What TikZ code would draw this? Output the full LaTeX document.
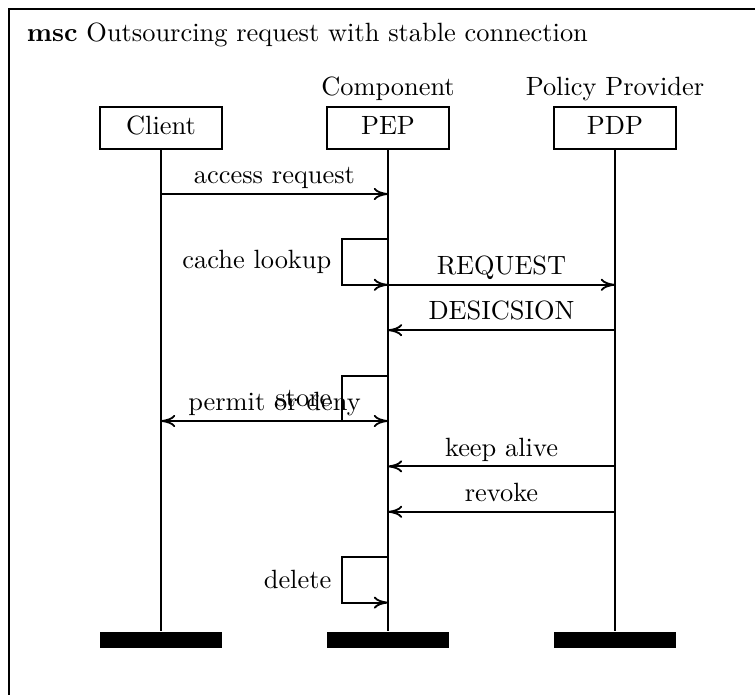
\documentclass[tikz,border=0pt]{standalone}
\usetikzlibrary{arrows.meta}
\begin{document}
\begin{tikzpicture}[x=0.3788pt,y=-0.3788pt,
  line width=0.7pt,
  inst/.style={draw, minimum width=46.2pt, minimum height=16pt, inner sep=0pt,
    text height=6.94pt, text depth=2.17pt},
  instend/.style={fill=black, minimum width=46.2pt, minimum height=6.3pt, inner sep=0pt},
  msg/.style={-{Computer Modern Rightarrow[length=5.4pt,width=4.6pt]}},
  msglabel/.style={anchor=base, inner sep=0pt},
  selflabel/.style={anchor=east, inner sep=3.33pt},
]
\useasboundingbox (0,0) rectangle (755,695);
\clip (0,0) rectangle (755,695);

% diagram frame (runs past the page on the right and bottom)
\draw (9.3,9) rectangle (900,900);
\node[anchor=base west, inner sep=0pt] (title) at (26,41.7)
  {\textbf{msc} Outsourcing request with stable connection};

% instance heads
\node[inst] (client) at (161,128) {Client};
\node[inst] (pep) at (388,128) {PEP};
\node[inst] (pdp) at (615,128) {PDP};
\node[anchor=base, inner sep=0pt] (pephead) at (388,96) {Component};
\node[anchor=base, inner sep=0pt] (pdphead) at (615,96) {Policy Provider};

% instance ends
\node[instend] (clientend) at (161,640) {};
\node[instend] (pepend) at (388,640) {};
\node[instend] (pdpend) at (615,640) {};

% lifelines
\draw (client.south) -- (clientend.north);
\draw (pep.south) -- (pepend.north);
\draw (pdp.south) -- (pdpend.north);

% message end points
\coordinate (a1) at (161,194);    \coordinate (b1) at (388,194);
\coordinate (s1t) at (388,239.4); \coordinate (s1b) at (388,284.8);
\coordinate (b2) at (388,284.8);  \coordinate (c2) at (615,284.8);
\coordinate (c3) at (615,330.2);  \coordinate (b3) at (388,330.2);
\coordinate (s2t) at (388,375.6); \coordinate (s2b) at (388,421);
\coordinate (b4) at (388,421);    \coordinate (a4) at (161,421);
\coordinate (c5) at (615,466.4);  \coordinate (b5) at (388,466.4);
\coordinate (c6) at (615,511.8);  \coordinate (b6) at (388,511.8);
\coordinate (s3t) at (388,557.2); \coordinate (s3b) at (388,602.6);

% messages
\draw[msg] (a1) -- (b1);
\node[msglabel] (l1) at (274.5,183.5) {access request};

\draw[msg] (s1t) -- ++(-45.7,0) |- (s1b);
\node[selflabel] (l2) at (341,262.1) {cache lookup};

\draw[msg] (b2) -- (c2);
\node[msglabel] (l3) at (501.5,275) {REQUEST};

\draw[msg] (c3) -- (b3);
\node[msglabel] (l4) at (501.5,319.7) {DESICSION};

\draw[msg] (s2t) -- ++(-45.7,0) |- (s2b);
\node[selflabel] (l5) at (341,398.3) {store};

\draw[msg] (b4) -- (a4);
\node[msglabel] (l6) at (274.5,410.5) {permit or deny};

\draw[msg] (c5) -- (b5);
\node[msglabel] (l7) at (501.5,456.2) {keep alive};

\draw[msg] (c6) -- (b6);
\node[msglabel] (l8) at (501.5,501.6) {revoke};

\draw[msg] (s3t) -- ++(-45.7,0) |- (s3b);
\node[selflabel] (l9) at (341,579.9) {delete};
\end{tikzpicture}
\end{document}
